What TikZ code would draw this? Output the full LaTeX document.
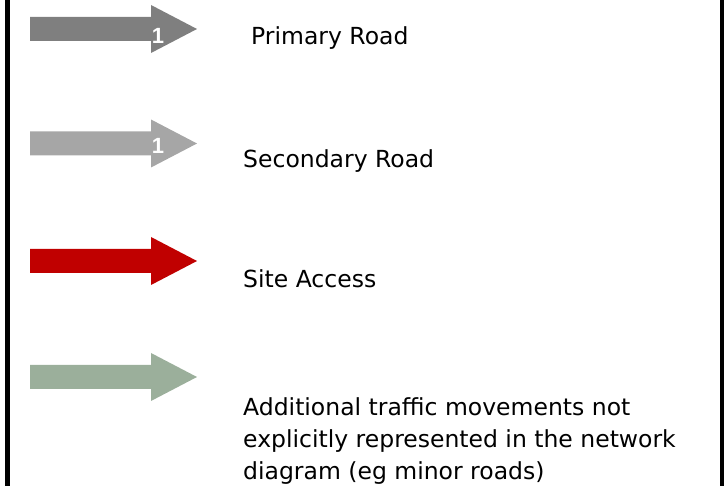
\documentclass[tikz,border=0pt]{standalone}
\usepackage{fontspec}
\setmainfont{DejaVu Sans}
\newfontfamily\numfont{Liberation Sans}
\usetikzlibrary{positioning}
\definecolor{RoadPrimary}{RGB}{127,127,127}
\definecolor{RoadSecondary}{RGB}{166,166,166}
\definecolor{SiteRed}{RGB}{192,0,0}
\definecolor{MinorGreen}{RGB}{155,175,155}

% block arrow: #1 = centre line, #2 = colour
\newcommand{\legendarrow}[2]{%
  \fill[#2] (30,#1-12) -- (151,#1-12) -- (151,#1-24) -- (197,#1)
    -- (151,#1+24) -- (151,#1+12) -- (30,#1+12) -- cycle;}

\begin{document}
\begin{tikzpicture}[x=1pt, y=-1pt,
    legendtext/.style={anchor=base west, inner sep=0pt, align=left,
      font=\fontsize{23.5}{32}\selectfont},
    roadno/.style={inner sep=0pt, text=white, font=\numfont\fontsize{22}{22}\selectfont\bfseries}]
    \useasboundingbox (0,0) rectangle (724,486);

    % frame sides
    \draw[line width=5pt] (7.5,0) -- (7.5,486);
    \draw[line width=4pt] (722,0) -- (722,486);

    \legendarrow{29}{RoadPrimary}
    \legendarrow{143.5}{RoadSecondary}
    \legendarrow{261}{SiteRed}
    \legendarrow{377}{MinorGreen}

    \node[roadno] (noA) at (158,36) {1};
    \node[roadno] (noB) at (158,146) {1};

    \node[legendtext] (primary)   at (251,45)  {Primary Road};
    \node[legendtext] (secondary) at (243,168) {Secondary Road};
    \node[legendtext] (access)    at (243,288) {Site Access};
    % base of a multi-line node sits on its last line
    \node[legendtext] (minor)     at (243,480) {Additional traffic movements not\\
      explicitly represented in the network\\diagram (eg minor roads)};
\end{tikzpicture}
\end{document}
